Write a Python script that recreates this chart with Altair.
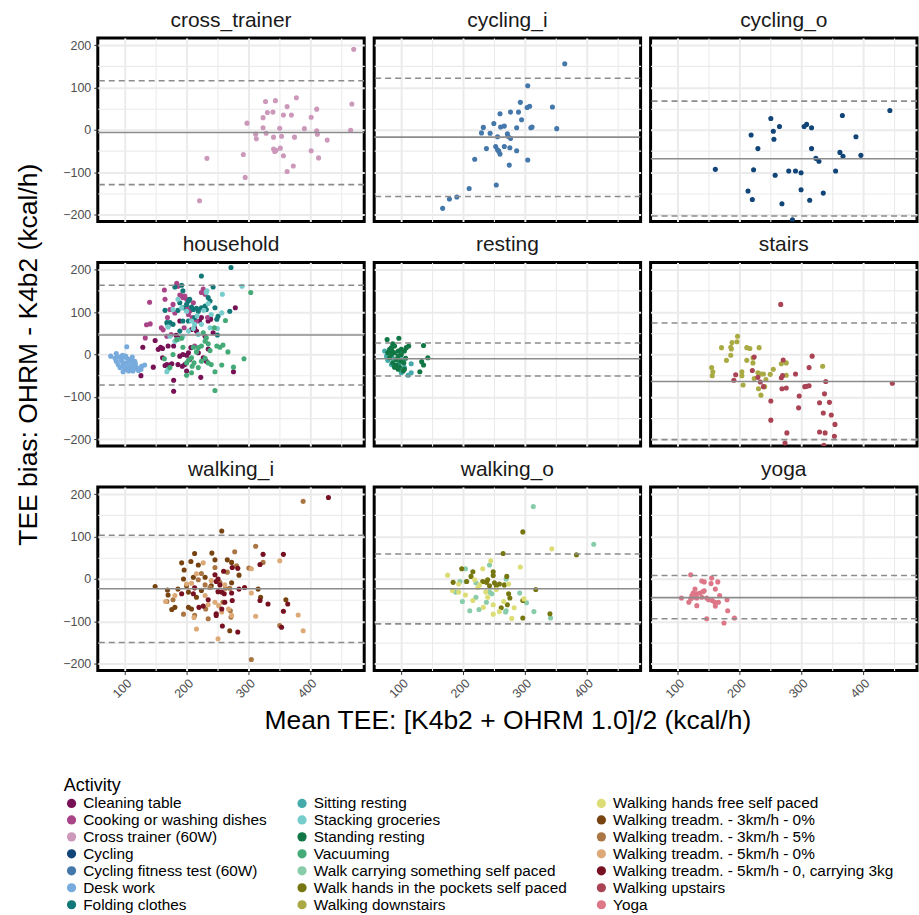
import altair as alt
import pandas as pd

FONT = "Liberation Sans"

ACTIVITIES = [
    "Cleaning table", "Cooking or washing dishes", "Cross trainer (60W)", "Cycling",
    "Cycling fitness test (60W)", "Desk work", "Folding clothes",
    "Sitting resting", "Stacking groceries", "Standing resting", "Vacuuming",
    "Walk carrying something self paced", "Walk hands in the pockets self paced",
    "Walking downstairs",
    "Walking hands free self paced", "Walking treadm. - 3km/h - 0%",
    "Walking treadm. - 3km/h - 5%", "Walking treadm. - 5km/h - 0%",
    "Walking treadm. - 5km/h - 0, carrying 3kg", "Walking upstairs", "Yoga",
]
COLORS = [
    "#771155", "#AA4488", "#CC99BB", "#114477", "#4477AA", "#77AADD", "#117777",
    "#44AAAA", "#77CCCC", "#117744", "#44AA77", "#88CCAA", "#777711", "#AAAA44",
    "#DDDD77", "#774411", "#AA7744", "#DDAA77", "#771122", "#AA4455", "#DD7788",
]

PANELS = ["cross_trainer", "cycling_i", "cycling_o", "household", "resting",
          "stairs", "walking_i", "walking_o", "yoga"]
MEAN_BIAS = [-6, -17, -68, 46, -10, -64, -23, -23, -44]
UPPER_LOA = [116, 122, 68, 163, 27, 74, 103, 59, 8]
LOWER_LOA = [-129, -157, -203, -72, -51, -201, -150, -106, -94]

# (mean TEE, bias) pairs
CROSS_TRAINER = [(471,190),(468,61),(466,-1),(378,76),(344,69),(328,67),(340,42),(331,41),(363,55),(357,35),(370,35),(324,29),(411,49),(402,30),(298,16),(324,5),(351,4),(391,3),(411,-2),(412,-10),(312,-10),(329,-8),(313,-21),(341,-17),(354,-15),(375,-17),(428,-24),(341,-45),(345,-48),(343,-51),(352,-43),(357,-61),(402,-49),(414,-66),(292,-58),(373,-85),(363,-98),(295,-112),(233,-67),(221,-167)]
CYCLING_FITNESS = [(365,156),(305,104),(293,65),(308,56),(304,53),(345,54),(260,38),(277,42),(290,42),(295,24),(250,15),(233,6),(261,7),(267,9),(287,5),(310,5),(312,7),(352,3),(230,-7),(244,-8),(272,-9),(256,-16),(273,-15),(277,-20),(238,-44),(253,-39),(256,-47),(258,-50),(260,-57),(267,-39),(276,-42),(287,-49),(275,-83),(305,-71),(219,-69),(254,-130),(210,-138),(190,-158),(178,-163),(167,-185)]
CYCLING = [(444,46),(367,34),(251,27),(309,13),(305,8),(317,5),(265,8),(255,-3),(219,-12),(256,-22),(389,-16),(230,-44),(317,-44),(363,-53),(368,-62),(397,-60),(324,-67),(329,-74),(161,-93),(223,-94),(280,-97),(291,-97),(300,-101),(258,-107),(356,-97),(300,-141),(336,-149),(214,-144),(221,-164),(269,-174),(314,-166),(286,-212)]
DESK_WORK = [(77,-4),(103,18),(86,-16),(95,-8),(89,-24),(97,-20),(105,-31),(111,-24),(114,-35),(100,-35),(108,-12),(116,-16),(119,-31),(127,-28),(132,-25),(126,-35),(92,-31),(84,-9),(96,-2),(101,-4),(104,-20),(110,-14),(115,-25),(122,-38),(86,2),(90,-6),(97,-28),(106,-39),(113,-39),(97,-41),(103,-9),(112,-6),(117,-22),(94,-14),(101,-31),(110,-31)]
CLEANING_TABLE = [(126,-50),(129,17),(146,-30),(149,33),(158,17),(161,14),(161,-8),(165,-26),(168,-24),(173,-25),(176,-22),(179,-61),(179,-87),(179,20),(183,45),(186,39),(189,-4),(193,-28),(197,-24),(194,0),(200,-2),(203,4),(205,-12),(207,16),(208,59),(213,63),(216,55),(219,4),(221,79),(224,87),(230,43),(235,79),(239,83),(238,87),(223,-54),(227,-8),(232,-16),(235,13),(243,51),(276,-41),(279,110),(170,20),(154,12),(189,79),(186,-24),(200,-39)]
COOKING = [(140,123),(135,70),(141,72),(133,39),(164,152),(165,130),(159,63),(162,58),(169,87),(173,106),(184,168),(186,161),(189,140),(192,138),(194,134),(197,138),(200,130),(201,109),(203,94),(205,102),(211,122),(216,79),(224,146),(227,154),(230,142),(234,87),(181,98),(178,118),(168,43),(175,47),(196,63),(209,87),(213,20)]
FOLDING = [(224,185),(272,205),(192,163),(194,150),(181,159),(165,104),(168,75),(170,67),(173,75),(178,71),(186,104),(189,122),(194,110),(200,118),(203,126),(205,130),(208,112),(211,106),(216,109),(219,102),(224,110),(227,109),(230,114),(232,106),(238,126),(243,159),(246,110),(249,83),(251,90),(270,102),(250,46),(189,55),(194,79),(203,79),(213,87),(235,134)]
STACKING = [(290,161),(258,142),(257,98),(250,61),(233,150),(232,146),(235,120),(228,104),(217,91),(213,71),(211,61),(203,55),(194,43),(186,35),(181,31),(173,43),(170,65),(178,106),(186,130),(192,110),(200,102),(208,79),(224,71),(238,63),(168,-41),(170,-35),(240,94),(219,47)]
VACUUMING = [(304,146),(293,-10),(276,-30),(263,80),(267,6),(259,22),(254,17),(249,20),(257,-25),(246,-85),(246,-41),(238,9),(230,31),(224,20),(219,16),(216,6),(211,17),(208,-8),(203,-14),(200,-20),(209,-28),(212,-20),(224,-16),(230,-9),(235,-20),(240,-24),(194,17),(192,38),(184,35),(178,0),(173,-31),(164,-10),(200,-49),(208,-43),(219,-31),(227,51),(232,39),(235,25),(245,63)]
STANDING_RESTING = [(77,35),(96,38),(86,25),(84,16),(89,20),(112,20),(136,21),(143,-8),(133,-17),(136,-25),(130,-41),(103,-39),(95,-35),(92,-25),(86,-20),(81,-8),(84,0),(89,4),(95,8),(100,12),(105,8),(107,-9),(99,-16),(92,-12),(85,8),(100,0),(108,16),(78,4),(97,-30),(105,-35),(89,-30),(95,-4),(81,12),(104,-20)]
SITTING_RESTING = [(73,8),(76,-4),(78,-14),(84,-24),(92,-31),(100,-43),(111,-49),(116,-43),(116,-22),(105,-31),(86,-9),(80,4),(96,-22),(101,-12)]
WALKING_DOWNSTAIRS = [(197,43),(196,30),(188,28),(186,17),(187,13),(171,16),(186,-2),(179,-14),(155,-31),(157,-41),(156,-50),(212,16),(217,14),(232,16),(222,-8),(212,-14),(222,-20),(204,-41),(206,-72),(230,-43),(235,-46),(239,-46),(250,-47),(255,-35),(243,-59),(224,-57),(231,-81),(235,-96),(241,-76),(268,-22),(276,-20),(276,-49),(335,-28),(204,-50)]
WALKING_UPSTAIRS = [(267,118),(224,-6),(271,-13),(318,-4),(313,-31),(221,-38),(194,-48),(191,-61),(230,-54),(234,-65),(239,-76),(270,-50),(268,-55),(291,-46),(269,-81),(276,-79),(306,-76),(309,-75),(313,-74),(340,-64),(297,-98),(296,-126),(251,-110),(251,-155),(338,-93),(330,-114),(346,-113),(336,-138),(349,-143),(355,-165),(330,-183),(339,-185),(354,-193),(277,-185),(274,-209),(337,-214),(448,-68)]
TREADM_5_CARRY = [(430,192),(357,58),(324,58),(319,34),(283,25),(274,27),(260,18),(251,0),(246,10),(248,-6),(254,-14),(257,-31),(261,-35),(273,-33),(285,-24),(294,-20),(319,-51),(332,-59),(354,-114),(357,-76),(364,-59),(274,-51),(262,-55),(257,-71),(248,-82),(248,-86),(258,-111),(283,-125),(220,-67),(227,-64),(211,-35),(192,-35),(213,-21),(235,-49),(251,-30)]
TREADM_3_0 = [(149,-18),(169,-26),(170,-38),(176,-72),(192,38),(196,21),(207,41),(213,60),(195,0),(200,-16),(203,-31),(203,-67),(208,-71),(216,-43),(219,33),(224,-27),(241,61),(246,45),(257,113),(266,45),(273,39),(285,9),(273,-9),(316,-24),(320,-43),(361,-49),(270,-122),(240,-16),(230,4),(181,-67),(186,-24),(211,4)]
TREADM_3_5 = [(389,183),(312,77),(278,64),(281,31),(301,26),(324,39),(305,-190),(351,-110),(235,-94),(213,-86),(195,-83),(178,-49),(168,-53),(224,13),(219,-2),(230,-14),(238,-20),(246,27),(254,-8),(263,-22),(270,-22),(271,-75),(272,-90),(266,16),(259,-55),(231,-71)]
TREADM_5_0 = [(381,-85),(389,-122),(351,43),(305,24),(305,-33),(312,-88),(227,38),(216,12),(216,-118),(251,-141),(212,-91),(235,-61),(246,-55),(252,-63),(262,-14),(268,-71),(273,-86),(208,-10),(200,-12),(181,-39),(166,-53),(240,-4),(230,-39),(257,-78)]
WALK_CARRYING = [(314,171),(412,82),(243,33),(204,24),(195,-6),(188,-31),(199,-53),(211,-75),(226,-72),(221,-43),(238,-55),(243,-31),(247,-35),(270,0),(270,-75),(269,-78),(292,-33),(303,-56),(315,-77),(342,-92),(221,-9),(205,-6)]
WALK_POCKETS = [(297,111),(265,60),(384,57),(198,24),(184,-8),(206,-6),(213,6),(216,17),(238,-8),(240,-2),(249,17),(249,8),(251,-9),(254,-16),(259,-12),(267,-14),(271,6),(274,-35),(276,-45),(272,-61),(262,-68),(297,-51),(297,-92),(318,-25),(341,-82),(243,-16),(232,-6)]
WALK_HANDS_FREE = [(344,71),(293,28),(245,43),(232,24),(219,-2),(175,9),(193,-12),(183,-27),(193,-31),(204,-38),(216,-51),(233,-67),(249,-61),(249,-83),(259,-77),(266,-53),(274,-12),(283,-68),(279,-93),(299,-47),(227,-14),(224,-20),(237,-31),(254,-25),(240,-43)]
YOGA = [(121,10),(155,2),(139,-5),(143,-7),(165,-7),(154,-11),(161,-24),(128,-24),(143,-28),(141,-30),(136,-33),(131,-35),(125,-33),(123,-39),(168,-39),(106,-45),(121,-47),(131,-45),(147,-45),(150,-49),(156,-51),(166,-55),(160,-55),(118,-55),(180,-49),(161,-64),(131,-63),(181,-75),(147,-94),(192,-92),(175,-104),(139,-43),(125,-43)]

GROUPS = [
    ("cross_trainer", "Cross trainer (60W)", CROSS_TRAINER),
    ("cycling_i", "Cycling fitness test (60W)", CYCLING_FITNESS),
    ("cycling_o", "Cycling", CYCLING),
    ("household", "Desk work", DESK_WORK),
    ("household", "Cleaning table", CLEANING_TABLE),
    ("household", "Cooking or washing dishes", COOKING),
    ("household", "Folding clothes", FOLDING),
    ("household", "Stacking groceries", STACKING),
    ("household", "Vacuuming", VACUUMING),
    ("resting", "Sitting resting", SITTING_RESTING),
    ("resting", "Standing resting", STANDING_RESTING),
    ("stairs", "Walking downstairs", WALKING_DOWNSTAIRS),
    ("stairs", "Walking upstairs", WALKING_UPSTAIRS),
    ("walking_i", "Walking treadm. - 3km/h - 0%", TREADM_3_0),
    ("walking_i", "Walking treadm. - 3km/h - 5%", TREADM_3_5),
    ("walking_i", "Walking treadm. - 5km/h - 0%", TREADM_5_0),
    ("walking_i", "Walking treadm. - 5km/h - 0, carrying 3kg", TREADM_5_CARRY),
    ("walking_o", "Walk carrying something self paced", WALK_CARRYING),
    ("walking_o", "Walk hands in the pockets self paced", WALK_POCKETS),
    ("walking_o", "Walking hands free self paced", WALK_HANDS_FREE),
    ("yoga", "Yoga", YOGA),
]

rows = []
for panel, act, pts in GROUPS:
    for mx, by in pts:
        rows.append({"panel": panel, "activity": act, "mean_tee": mx, "bias": by})
points_df = pd.DataFrame(rows)

W, H = 267, 184
ROW_GAP, COL_GAP = 41, 10
XDOM = [56, 488]
YDOM = [-216, 217]
XVALS = list(range(50, 451, 50))
YVALS = list(range(-200, 201, 50))
GRID_W = {"condition": {"test": "datum.value % 100 == 0", "value": 2.0}, "value": 1.1}
TICK_OP = {"condition": {"test": "datum.value % 100 == 0", "value": 1}, "value": 0}
LABEL_EXPR = "datum.value % 100 == 0 ? datum.label : ''"

legend = alt.Legend(
    title="Activity", orient="none", legendX=-34, legendY=741, columns=3,
    direction="vertical",
    symbolType="circle", symbolSize=85, symbolStrokeWidth=0, labelFontSize=15.4,
    titleFontSize=18, titleFontWeight="normal", titleColor="#000000",
    labelColor="#000000", labelLimit=600, rowPadding=0, columnPadding=27,
    labelOffset=4, titlePadding=0, labelFont=FONT, titleFont=FONT,
)
color_scale = alt.Scale(domain=ACTIVITIES, range=COLORS)

charts = []
for i, p in enumerate(PANELS):
    r, c = divmod(i, 3)
    common_x = dict(values=XVALS, gridWidth=GRID_W, gridColor="#EBEBEB", domain=False)
    if r == 2:
        xaxis = alt.Axis(
            labelExpr=LABEL_EXPR, tickOpacity=TICK_OP, labelAngle=-45, labelAlign="right",
            labelBaseline="top", labelFontSize=12.5, labelColor="#4D4D4D", tickColor="#333333",
            tickSize=4, labelPadding=2, labelOverlap=False, labelFlush=False,
            title="Mean TEE: [K4b2 + OHRM 1.0]/2 (kcal/h)" if c == 1 else None,
            titleFontSize=26.5, titleFontWeight="normal", titleColor="#000000",
            titleY=58, titleBaseline="alphabetic", **common_x)
    else:
        xaxis = alt.Axis(labels=False, ticks=False, title=None, **common_x)
    common_y = dict(values=YVALS, gridWidth=GRID_W, gridColor="#EBEBEB", domain=False)
    if c == 0:
        # the y title sits on the top-left panel, centred on the middle row
        yaxis = alt.Axis(
            labelExpr=LABEL_EXPR, tickOpacity=TICK_OP, labelFontSize=12.5,
            labelColor="#4D4D4D", tickColor="#333333", tickSize=4, labelPadding=3,
            labelOverlap=False, labelFlush=False,
            title="TEE bias: OHRM - K4b2 (kcal/h)" if r == 0 else None,
            titleFontSize=26.5, titleFontWeight="normal", titleColor="#000000",
            titleX=-61, titleY=H + ROW_GAP + H / 2, titleBaseline="alphabetic", **common_y)
    else:
        yaxis = alt.Axis(labels=False, ticks=False, title=None, **common_y)

    xs = alt.Scale(domain=XDOM, nice=False, zero=False)
    ys = alt.Scale(domain=YDOM, nice=False, zero=False)
    pts = alt.Chart(points_df[points_df.panel == p]).mark_circle(
        size=26, opacity=1, clip=True
    ).encode(
        x=alt.X("mean_tee:Q", scale=xs, axis=xaxis),
        y=alt.Y("bias:Q", scale=ys, axis=yaxis),
        color=alt.Color("activity:N", scale=color_scale, legend=legend),
    )
    mean_df = pd.DataFrame({"bias": [MEAN_BIAS[i]]})
    loa_df = pd.DataFrame({"bias": [UPPER_LOA[i], LOWER_LOA[i]]})
    mean_rule = alt.Chart(mean_df).mark_rule(color="#8C8C8C", strokeWidth=1.6, clip=True).encode(
        y=alt.Y("bias:Q", scale=ys, axis=yaxis))
    loa_rule = alt.Chart(loa_df).mark_rule(
        color="#8C8C8C", strokeWidth=1.6, strokeDash=[6, 4], clip=True
    ).encode(y=alt.Y("bias:Q", scale=ys, axis=yaxis))
    ch = alt.layer(pts, mean_rule, loa_rule).properties(
        width=W, height=H,
        title=alt.TitleParams(p, fontSize=21, fontWeight="normal", color="#1A1A1A",
                              offset=7, anchor="middle", frame="group", font=FONT),
    )
    charts.append(ch)

chart = alt.concat(*charts, columns=3, spacing={"row": ROW_GAP, "column": COL_GAP},
                   bounds="flush").resolve_scale(
    x="independent", y="independent", color="shared"
).properties(
    padding={"left": 14, "top": 7, "right": 0, "bottom": 0},
    background="white",
).configure(
    font=FONT
).configure_view(
    stroke="black", strokeWidth=3
).configure_axis(
    labelFont=FONT, titleFont=FONT
)

chart.save("out.html", embed_options={"renderer": "svg", "actions": False})
